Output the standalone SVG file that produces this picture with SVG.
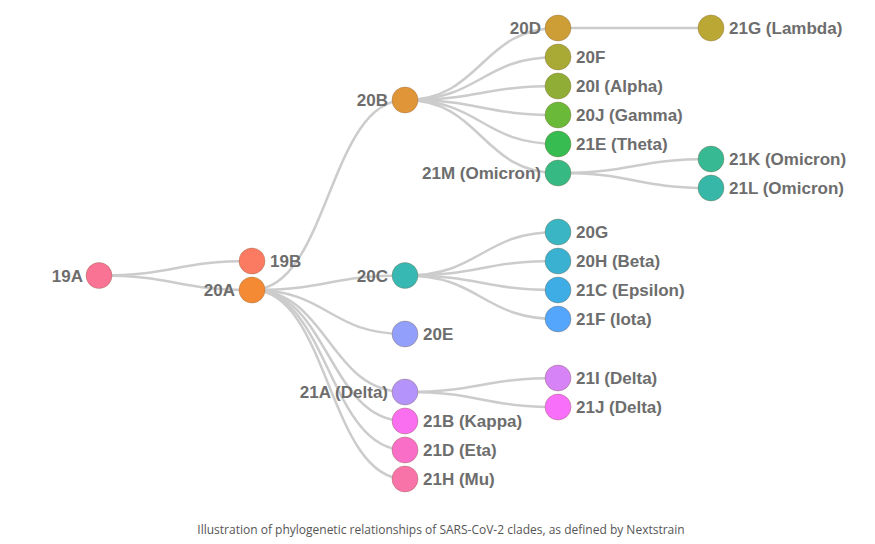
<svg xmlns="http://www.w3.org/2000/svg" width="875" height="544" viewBox="0 0 875 544">
<style>
.link{fill:none;stroke:#cccccc;stroke-width:2.5}
.node circle{stroke-width:1;stroke-opacity:0.35;stroke:#806040}
.node text{font-family:"Liberation Sans",Arial,sans-serif;font-weight:bold;font-size:17px;fill:#6d6d6d}
.l{text-anchor:end}
.caption{font-family:"Open Sans","Noto Sans",sans-serif;font-size:12px;fill:#555555;text-anchor:middle}
</style>
<rect width="875" height="544" fill="#ffffff"/>
<g id="connectors">
<path class="link" d="M99,275.5C175.5,275.5 175.5,261 252,261"/>
<path class="link" d="M99,275.5C175.5,275.5 175.5,290 252,290"/>
<path class="link" d="M252,290C328.5,290 328.5,100 405,100"/>
<path class="link" d="M252,290C328.5,290 328.5,275.5 405,275.5"/>
<path class="link" d="M252,290C328.5,290 328.5,334 405,334"/>
<path class="link" d="M252,290C328.5,290 328.5,392 405,392"/>
<path class="link" d="M252,290C328.5,290 328.5,421 405,421"/>
<path class="link" d="M252,290C328.5,290 328.5,450 405,450"/>
<path class="link" d="M252,290C328.5,290 328.5,479 405,479"/>
<path class="link" d="M405,100C481.5,100 481.5,28 558,28"/>
<path class="link" d="M405,100C481.5,100 481.5,57 558,57"/>
<path class="link" d="M405,100C481.5,100 481.5,86 558,86"/>
<path class="link" d="M405,100C481.5,100 481.5,115 558,115"/>
<path class="link" d="M405,100C481.5,100 481.5,144 558,144"/>
<path class="link" d="M405,100C481.5,100 481.5,173 558,173"/>
<path class="link" d="M558,28C634.5,28 634.5,28 711,28"/>
<path class="link" d="M558,173C634.5,173 634.5,159 711,159"/>
<path class="link" d="M558,173C634.5,173 634.5,188 711,188"/>
<path class="link" d="M405,275.5C481.5,275.5 481.5,232 558,232"/>
<path class="link" d="M405,275.5C481.5,275.5 481.5,261 558,261"/>
<path class="link" d="M405,275.5C481.5,275.5 481.5,290 558,290"/>
<path class="link" d="M405,275.5C481.5,275.5 481.5,319 558,319"/>
<path class="link" d="M405,392C481.5,392 481.5,378 558,378"/>
<path class="link" d="M405,392C481.5,392 481.5,407 558,407"/>
</g>
<g id="n19A" class="node"><circle cx="99" cy="275.5" r="13" fill="#f97394"/><text class="l" x="83" y="281.5">19A</text></g>
<g id="n19B" class="node"><circle cx="252" cy="261" r="13" fill="#fa7a62"/><text x="270" y="267">19B</text></g>
<g id="n20A" class="node"><circle cx="252" cy="290" r="13" fill="#f48a33"/><text class="l" x="235" y="296">20A</text></g>
<g id="n20B" class="node"><circle cx="405" cy="100" r="13" fill="#e09539"/><text class="l" x="388" y="106">20B</text></g>
<g id="n20C" class="node"><circle cx="405" cy="275.5" r="13" fill="#38b8b2"/><text class="l" x="388" y="281.5">20C</text></g>
<g id="n20E" class="node"><circle cx="405" cy="334" r="13" fill="#929ffb"/><text x="423" y="340">20E</text></g>
<g id="n21A" class="node"><circle cx="405" cy="392" r="13" fill="#b493fa"/><text class="l" x="388" y="398">21A (Delta)</text></g>
<g id="n21B" class="node"><circle cx="405" cy="421" r="13" fill="#fa6ef0"/><text x="423" y="427">21B (Kappa)</text></g>
<g id="n21D" class="node"><circle cx="405" cy="450" r="13" fill="#f96ec6"/><text x="423" y="456">21D (Eta)</text></g>
<g id="n21H" class="node"><circle cx="405" cy="479" r="13" fill="#f873a8"/><text x="423" y="485">21H (Mu)</text></g>
<g id="n20D" class="node"><circle cx="558" cy="28" r="13" fill="#cc9e35"/><text class="l" x="541" y="34">20D</text></g>
<g id="n20F" class="node"><circle cx="558" cy="57" r="13" fill="#a9a935"/><text x="576" y="63">20F</text></g>
<g id="n20I" class="node"><circle cx="558" cy="86" r="13" fill="#90ae36"/><text x="576" y="92">20I (Alpha)</text></g>
<g id="n20J" class="node"><circle cx="558" cy="115" r="13" fill="#6bb938"/><text x="576" y="121">20J (Gamma)</text></g>
<g id="n21E" class="node"><circle cx="558" cy="144" r="13" fill="#36bc50"/><text x="576" y="150">21E (Theta)</text></g>
<g id="n21M" class="node"><circle cx="558" cy="173" r="13" fill="#36b982"/><text class="l" x="541" y="179">21M (Omicron)</text></g>
<g id="n21G" class="node"><circle cx="711" cy="28" r="13" fill="#bba834"/><text x="729" y="34">21G (Lambda)</text></g>
<g id="n21K" class="node"><circle cx="711" cy="159" r="13" fill="#37b994"/><text x="729" y="165">21K (Omicron)</text></g>
<g id="n21L" class="node"><circle cx="711" cy="188" r="13" fill="#37b7a7"/><text x="729" y="194">21L (Omicron)</text></g>
<g id="n20G" class="node"><circle cx="558" cy="232" r="13" fill="#39b5c3"/><text x="576" y="238">20G</text></g>
<g id="n20H" class="node"><circle cx="558" cy="261" r="13" fill="#3bb1d2"/><text x="576" y="267">20H (Beta)</text></g>
<g id="n21C" class="node"><circle cx="558" cy="290" r="13" fill="#3eade6"/><text x="576" y="296">21C (Epsilon)</text></g>
<g id="n21F" class="node"><circle cx="558" cy="319" r="13" fill="#53a6fb"/><text x="576" y="325">21F (Iota)</text></g>
<g id="n21I" class="node"><circle cx="558" cy="378" r="13" fill="#d583f7"/><text x="576" y="384">21I (Delta)</text></g>
<g id="n21J" class="node"><circle cx="558" cy="407" r="13" fill="#f86ffa"/><text x="576" y="413">21J (Delta)</text></g>
<text class="caption" x="441" y="534">Illustration of phylogenetic relationships of SARS-CoV-2 clades, as defined by Nextstrain</text>
</svg>
